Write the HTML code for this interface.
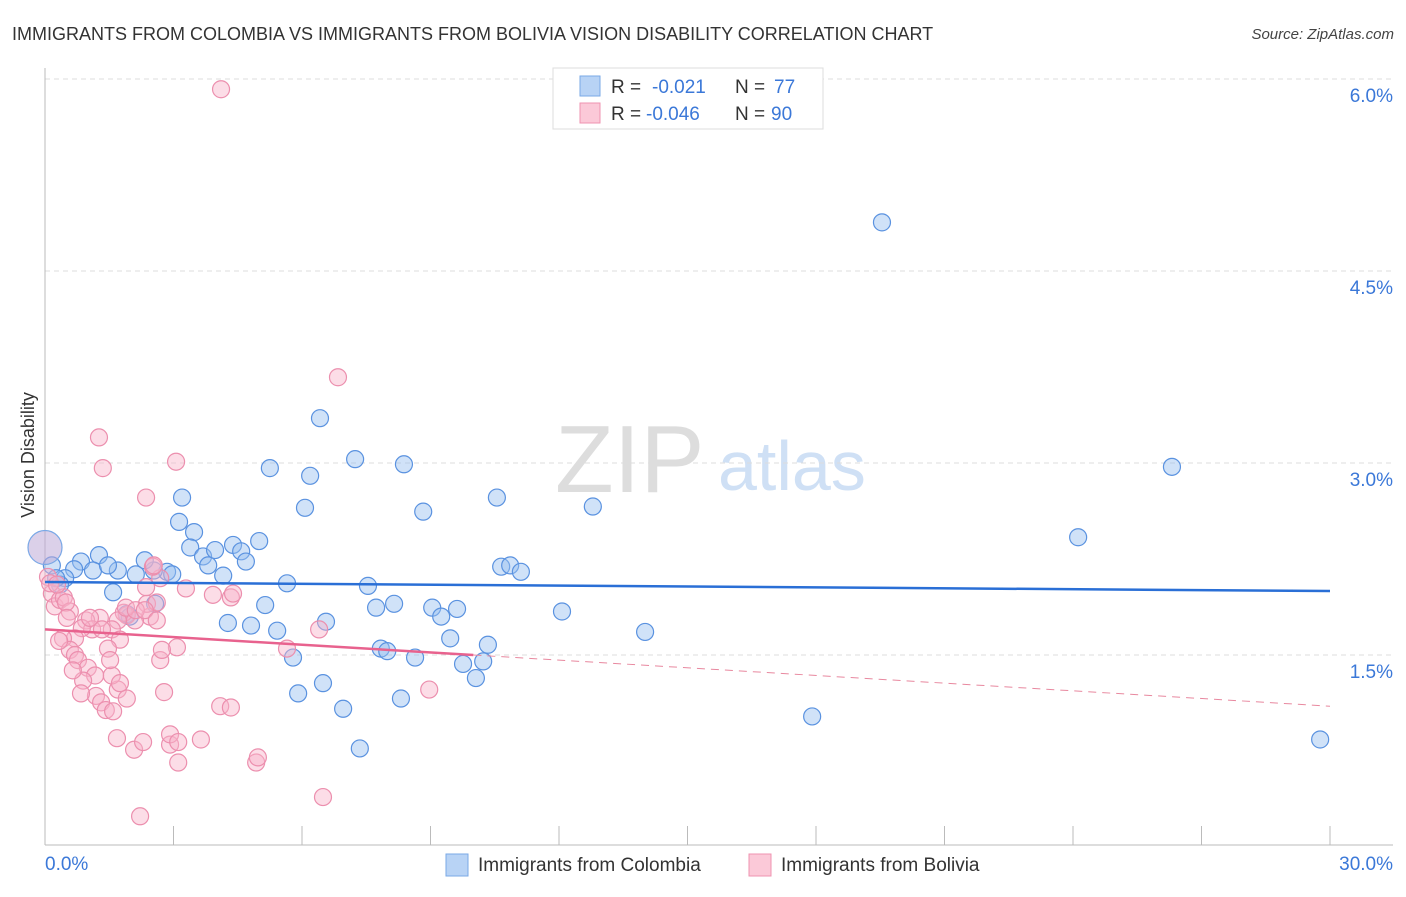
<!DOCTYPE html>
<html><head><meta charset="utf-8"><style>
body{margin:0;background:#fff;font-family:"Liberation Sans",sans-serif;}
svg text{font-family:"Liberation Sans",sans-serif;}
</style></head><body>
<svg id="chart" width="1406" height="892" xmlns="http://www.w3.org/2000/svg">
<text x="12" y="40" font-size="18" fill="#333">IMMIGRANTS FROM COLOMBIA VS IMMIGRANTS FROM BOLIVIA VISION DISABILITY CORRELATION CHART</text>
<text x="1394" y="39" font-size="15" font-style="italic" fill="#444" text-anchor="end">Source: ZipAtlas.com</text>
<text x="555" y="492" font-size="96" font-family="Liberation Serif" fill="#ddd">ZIP</text>
<text x="718" y="490" font-size="70" fill="#cfe0f5">atlas</text>
<text x="34" y="455" font-size="18" fill="#333" transform="rotate(-90 34 455)" text-anchor="middle">Vision Disability</text>
<g id="grid"></g><g id="axes"></g><g id="pts"></g><g id="trend"></g>
<g>
<rect x="553" y="68" width="270" height="61" fill="#fff" stroke="#ddd"/>
<rect x="580" y="76" width="20" height="20" fill="#b8d3f5" stroke="#7aa8e6"/>
<rect x="580" y="103" width="20" height="20" fill="#fbc9d8" stroke="#ef93b0"/>
<text x="611" y="93" font-size="19" fill="#333">R = <tspan fill="#3b78d8" x="652">-0.021</tspan><tspan fill="#333" x="735">N = </tspan><tspan fill="#3b78d8" x="774">77</tspan></text>
<text x="611" y="120" font-size="19" fill="#333">R = <tspan fill="#3b78d8" x="646">-0.046</tspan><tspan fill="#333" x="735">N = </tspan><tspan fill="#3b78d8" x="771">90</tspan></text>
</g>
<g>
<rect x="446" y="854" width="22" height="22" fill="#b8d3f5" stroke="#7aa8e6"/>
<text x="478" y="871" font-size="19" fill="#333">Immigrants from Colombia</text>
<rect x="749" y="854" width="22" height="22" fill="#fbc9d8" stroke="#ef93b0"/>
<text x="781" y="871" font-size="19" fill="#333">Immigrants from Bolivia</text>
</g>
</svg>
<script>
const yTicks=[1.5,3.0,4.5,6.0];
const yTickLabels=["1.5%","3.0%","4.5%","6.0%"];
const xTicks=[0,3,6,9,12,15,18,21,24,27,30];
const xTickLabels=["0.0%","30.0%"];
const colX=[19.54,26.31,24.12,17.91,29.77,12.79,12.07,14.01,10.55,8.83,8.38,7.24,6.42,5.25,6.19,6.07,3.13,3.20,3.48,3.39,3.69,3.97,3.81,4.39,4.58,5.00,4.69,4.16,5.65,7.54,5.14,4.27,4.81,5.42,5.79,5.91,6.49,6.96,7.35,8.31,7.73,8.15,9.04,9.62,9.25,9.46,10.34,9.76,10.23,10.06,8.64,7.84,7.99,6.56,10.65,10.86,11.11,2.85,2.97,2.54,2.33,2.12,1.70,1.59,1.26,0.84,1.12,0.68,0.47,0.35,0.16,0.26,1.47,2.57,1.91,1.98];
const colY=[4.88,2.97,2.42,1.02,0.84,2.66,1.84,1.68,2.73,2.62,2.99,3.03,3.35,2.96,2.90,2.65,2.54,2.73,2.46,2.34,2.27,2.32,2.20,2.36,2.31,2.39,2.23,2.12,2.06,2.04,1.89,1.75,1.73,1.69,1.48,1.20,1.28,1.08,0.77,1.16,1.87,1.90,1.87,1.86,1.80,1.63,1.58,1.43,1.45,1.32,1.48,1.55,1.53,1.76,2.19,2.20,2.15,2.15,2.13,2.16,2.24,2.13,2.16,1.99,2.28,2.23,2.16,2.17,2.10,2.05,2.20,2.10,2.20,1.90,1.82,1.80];
const bigX=[0], bigY=[2.34];
const bolX=[4.11,6.84,1.26,1.35,3.06,2.36,4.34,3.29,2.69,2.52,1.91,1.84,2.45,2.38,2.10,2.61,1.70,1.28,0.96,1.10,1.56,1.75,1.47,0.86,0.70,0.42,0.58,0.33,0.70,0.77,1.00,1.17,0.89,1.19,0.84,1.31,1.42,1.59,1.70,1.56,1.91,2.69,2.78,3.08,2.36,1.75,2.54,2.92,3.11,2.92,1.68,2.08,2.29,3.64,4.09,4.34,4.93,4.97,6.49,2.22,5.65,6.40,8.97,0.07,0.16,0.23,0.35,0.44,0.58,0.49,0.12,0.28,0.51,1.05,1.33,1.52,0.65,1.89,2.12,2.33,2.61,2.73,3.92,4.39,3.11];
const bolY=[5.92,3.67,3.20,2.96,3.01,2.73,1.95,2.02,2.10,2.19,1.81,1.83,1.80,1.90,1.77,1.91,1.77,1.79,1.77,1.70,1.70,1.62,1.55,1.71,1.63,1.63,1.54,1.61,1.50,1.46,1.40,1.34,1.30,1.18,1.20,1.13,1.07,1.06,1.23,1.34,1.16,1.46,1.21,1.56,2.03,1.28,2.20,0.80,0.66,0.88,0.85,0.76,0.82,0.84,1.10,1.09,0.66,0.70,0.39,0.24,1.55,1.70,1.23,2.11,1.98,1.88,1.93,1.95,1.84,1.91,2.06,2.05,1.79,1.79,1.70,1.46,1.38,1.87,1.85,1.85,1.77,1.54,1.97,1.98,0.82];
const colTrend=[2.07,2.00];
const bolTrend=[1.70,1.10];
const bolSolidEnd=10;

const NS="http://www.w3.org/2000/svg";
const sx=v=>45+v*(1285/30);
const sy=v=>655-(v-1.5)*128;
function mk(tag,attrs,parent){const e=document.createElementNS(NS,tag);for(const k in attrs)e.setAttribute(k,attrs[k]);document.getElementById(parent).appendChild(e);return e;}
yTicks.forEach((t,i)=>{
  const l=mk('line',{x1:45,x2:1393,y1:sy(t),y2:sy(t),stroke:'#ddd','stroke-dasharray':'5,4'},'grid');
  
  
  const tx=mk('text',{x:1393,y:sy(t)+23,'font-size':19,fill:'#3b78d8','text-anchor':'end'},'grid');
  tx.textContent=yTickLabels[i];
  
  
});
let a=mk('line',{x1:45,x2:45,y1:68,y2:845,stroke:'#bbb'},'axes');


a=mk('line',{x1:45,x2:1393,y1:845,y2:845,stroke:'#bbb'},'axes');


xTicks.forEach(t=>{
  const l=mk('line',{x1:sx(t),x2:sx(t),y1:826,y2:845,stroke:'#bbb'},'axes');
  
  
});
let t0=mk('text',{x:45,y:870,'font-size':19,fill:'#3b78d8'},'axes');t0.textContent=xTickLabels[0];


let t1=mk('text',{x:1393,y:870,'font-size':19,fill:'#3b78d8','text-anchor':'end'},'axes');t1.textContent=xTickLabels[1];


colX.forEach((x,i)=>{
  const c=mk('circle',{cx:sx(x),cy:sy(colY[i]),r:8.5,fill:'rgba(150,190,240,0.45)',stroke:'#5a92e0','stroke-width':1.2},'pts');
  
  
});
bigX.forEach((x,i)=>{
  const c=mk('circle',{cx:sx(x),cy:sy(bigY[i]),r:17,fill:'rgba(190,170,215,0.55)',stroke:'#7aa8e6','stroke-width':1.2},'pts');
  
  
});
bolX.forEach((x,i)=>{
  const c=mk('circle',{cx:sx(x),cy:sy(bolY[i]),r:8.5,fill:'rgba(248,180,202,0.45)',stroke:'#ec8fae','stroke-width':1.2},'pts');
  
  
});
let tl=mk('line',{x1:sx(0),x2:sx(30),y1:sy(colTrend[0]),y2:sy(colTrend[1]),stroke:'#2a6fd6','stroke-width':2.5},'trend');


const bAt=x=>bolTrend[0]+(bolTrend[1]-bolTrend[0])*x/30;
tl=mk('line',{x1:sx(0),x2:sx(bolSolidEnd),y1:sy(bAt(0)),y2:sy(bAt(bolSolidEnd)),stroke:'#e8628e','stroke-width':2.5},'trend');


tl=mk('line',{x1:sx(bolSolidEnd),x2:sx(30),y1:sy(bAt(bolSolidEnd)),y2:sy(bAt(30)),stroke:'#e8889f','stroke-width':1,'stroke-dasharray':'8,6'},'trend');


</script>
</body></html>
